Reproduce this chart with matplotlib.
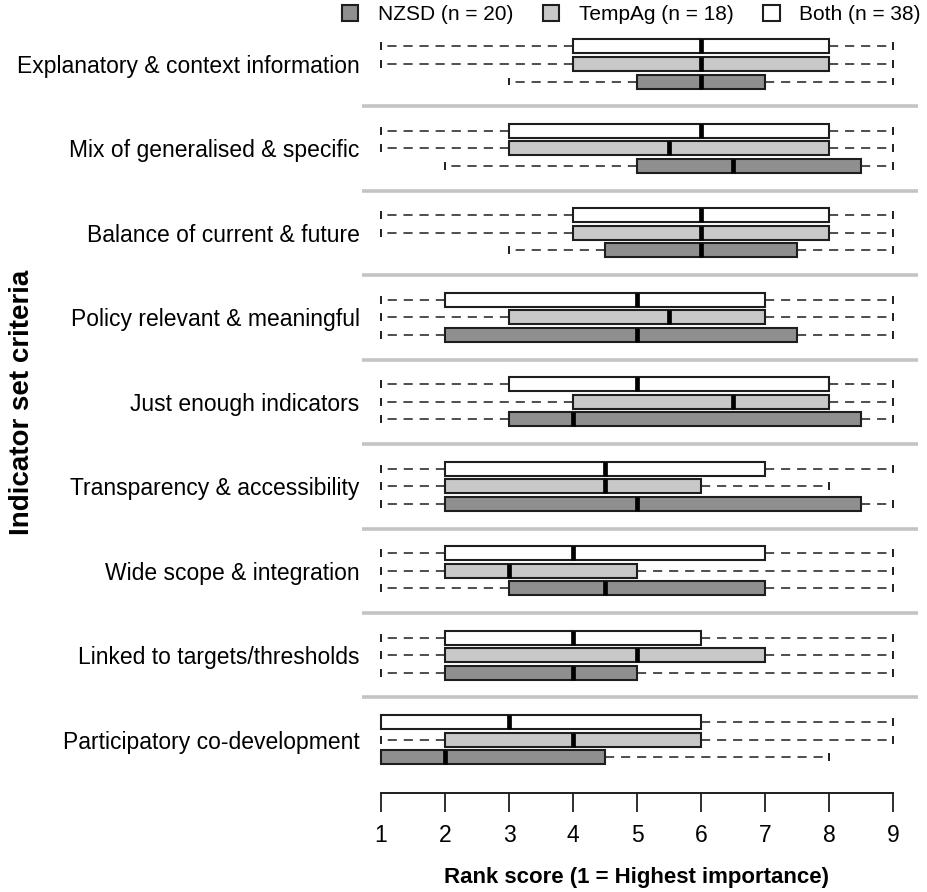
import numpy as np
import matplotlib
matplotlib.use("Agg")
import matplotlib.pyplot as plt
from matplotlib.patches import Patch

plt.rcParams['font.family'] = ['Liberation Sans', 'DejaVu Sans']

criteria = ["Explanatory & context information", "Mix of generalised & specific",
            "Balance of current & future", "Policy relevant & meaningful",
            "Just enough indicators", "Transparency & accessibility",
            "Wide scope & integration", "Linked to targets/thresholds",
            "Participatory co-development"]

# rank summaries per criterion: whisker low, Q1, median, Q3, whisker high
both_lo = [1, 1, 1, 1, 1, 1, 1, 1, 1]
both_q1 = [4, 3, 4, 2, 3, 2, 2, 2, 1]
both_med = [6, 6, 6, 5, 5, 4.5, 4, 4, 3]
both_q3 = [8, 8, 8, 7, 8, 7, 7, 6, 6]
both_hi = [9, 9, 9, 9, 9, 9, 9, 9, 9]

tempag_lo = [1, 1, 1, 1, 1, 1, 1, 1, 1]
tempag_q1 = [4, 3, 4, 3, 4, 2, 2, 2, 2]
tempag_med = [6, 5.5, 6, 5.5, 6.5, 4.5, 3, 5, 4]
tempag_q3 = [8, 8, 8, 7, 8, 6, 5, 7, 6]
tempag_hi = [9, 9, 9, 9, 9, 8, 9, 9, 9]

nzsd_lo = [3, 2, 3, 1, 1, 1, 1, 1, 1]
nzsd_q1 = [5, 5, 4.5, 2, 3, 2, 3, 2, 1]
nzsd_med = [6, 6.5, 6, 5, 4, 5, 4.5, 4, 2]
nzsd_q3 = [7, 8.5, 7.5, 7.5, 8.5, 8.5, 7, 5, 4.5]
nzsd_hi = [9, 9, 9, 9, 9, 9, 9, 9, 8]

groups = ["NZSD (n = 20)", "TempAg (n = 18)", "Both (n = 38)"]
colors = ["#8f8f8f", "#c8c8c8", "#ffffff"]

step = 4.82
centers = -np.arange(len(criteria)) * step

fig = plt.figure(figsize=(9.28, 8.92), dpi=100)
ax = fig.add_axes([361.8 / 928, 99 / 892, 550.4 / 928, 763 / 892])

series = [
    (nzsd_lo, nzsd_q1, nzsd_med, nzsd_q3, nzsd_hi, -1.0, colors[0]),
    (tempag_lo, tempag_q1, tempag_med, tempag_q3, tempag_hi, 0.0, colors[1]),
    (both_lo, both_q1, both_med, both_q3, both_hi, 1.0, colors[2]),
]

for lo, q1, med, q3, hi, off, col in series:
    stats = []
    for i in range(len(criteria)):
        stats.append({"whislo": lo[i], "q1": q1[i], "med": med[i],
                      "q3": q3[i], "whishi": hi[i], "fliers": []})
    ax.bxp(stats, positions=centers + off, widths=0.8, orientation='horizontal',
           patch_artist=True, showfliers=False, capwidths=0.34,
           boxprops=dict(facecolor=col, edgecolor="#1e1e1e", linewidth=1.5),
           medianprops=dict(color="black", linewidth=3.4, solid_capstyle="butt"),
           whiskerprops=dict(color="#1e1e1e", linewidth=1.1, linestyle=(0, (6, 4.5))),
           capprops=dict(color="#1e1e1e", linewidth=1.4))

# grey separators between criteria
seps = (centers[:-1] + centers[1:]) / 2
ax.hlines(seps, 0.7, 9.39, color="#c4c4c4", linewidth=2.6, clip_on=False, zorder=0)

ax.set_xlim(0.7, 9.3)
ax.set_ylim(-38.56 - 3.04, 1.94)
ax.set_yticks(centers)
ax.set_yticklabels(criteria, fontsize=16.5)
ax.tick_params(axis='y', length=0, pad=1.5)
ax.set_xticks(range(1, 10))
ax.tick_params(axis='x', length=14, width=1.3, pad=8, labelsize=16.5, color="#1e1e1e")
for s in ["top", "right", "left"]:
    ax.spines[s].set_visible(False)
ax.spines["bottom"].set_bounds(1, 9)
ax.spines["bottom"].set_linewidth(1.4)
ax.spines["bottom"].set_color("#1e1e1e")

ax.set_xlabel("Rank score (1 = Highest importance)", fontsize=16, fontweight="bold", labelpad=15)
fig.text(22 / 928, 0.549, "Indicator set criteria", rotation=90, fontsize=20,
         fontweight="bold", ha="center", va="center")

handles = [Patch(facecolor=c, edgecolor="#1e1e1e", linewidth=1.5) for c in colors]
fig.legend(handles, groups, ncol=3, loc="upper right", bbox_to_anchor=(921 / 928, 1 - 5 / 892),
           frameon=False, fontsize=15, handlelength=0.8, handleheight=0.8,
           handletextpad=0.95, columnspacing=1.4, borderpad=0, borderaxespad=0)

plt.savefig("out.png", dpi=100)
